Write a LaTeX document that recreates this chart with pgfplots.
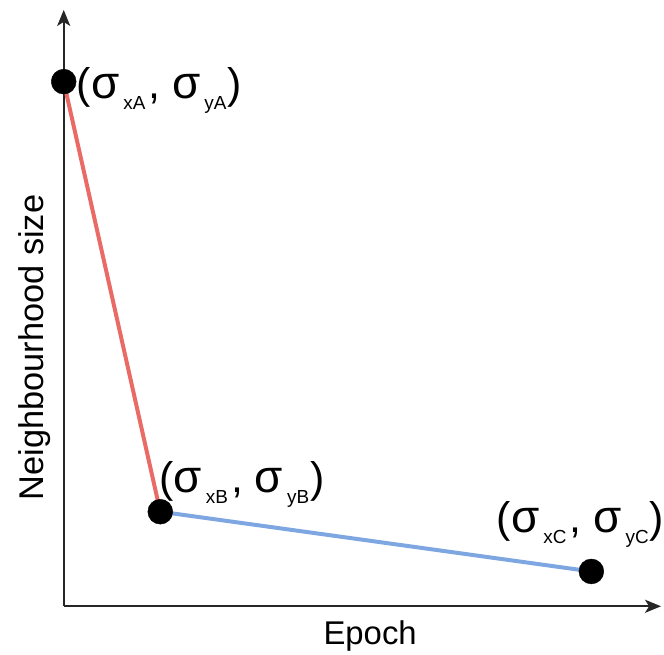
\documentclass[border=0pt]{standalone}
\usepackage{pgfplots}
\pgfplotsset{compat=1.18}
\usepackage{fontspec}
\setmainfont{Liberation Sans}
\usetikzlibrary{arrows.meta}
\definecolor{lred}{HTML}{EA6B66}
\definecolor{lblue}{HTML}{7EA6E0}
\newcommand{\sub}[1]{\raisebox{-11pt}{\fontsize{19}{19}\selectfont #1}}
\newcommand{\sig}{\scalebox{1.07}{σ}}
\newcommand{\lab}[2]{\fontsize{43}{43}\selectfont(\sig\hspace{4pt}\sub{#1}\hspace{3pt},~\sig\hspace{4pt}\sub{#2}\hspace{1pt})}
\begin{document}
\begin{tikzpicture}
\begin{axis}[
  scale only axis,
  width=600pt, height=599pt,
  xmin=0, xmax=600, ymin=0, ymax=599,
  axis lines=left,
  ticks=none,
  clip=false,
  axis line style={line width=2.4pt, black!85, -{Stealth[length=16pt,width=13pt,inset=4pt]}},
  xlabel={Epoch},
  ylabel={Neighbourhood size},
  every axis x label/.style={at={(axis description cs:0.513,-0.0634)}, anchor=base, font=\fontsize{33}{33}\selectfont},
  every axis y label/.style={at={(axis description cs:-0.033,0.434)}, anchor=base, rotate=90, font=\fontsize{34.5}{34.5}\selectfont},
]
\addplot[lred, line width=4pt] coordinates {(0,527) (97,95)};
\addplot[lblue, line width=4pt] coordinates {(97,95) (530,35)};
\addplot[only marks, mark=*, mark size=12.5pt, black] coordinates {(0,527) (97,95) (530,35)};
\node[anchor=base west, inner sep=0pt] at (axis cs:13,510) {\lab{xA}{yA}};
\node[anchor=base west, inner sep=0pt] at (axis cs:96,114) {\lab{xB}{yB}};
\node[anchor=base west, inner sep=0pt] at (axis cs:435,74) {\lab{xC}{yC}};
\coordinate (O) at (axis cs:0,0);
\end{axis}
\path[use as bounding box] ([shift={(-64pt,-44pt)}]O) rectangle ([shift={(600pt,609pt)}]O);
\end{tikzpicture}
\end{document}
